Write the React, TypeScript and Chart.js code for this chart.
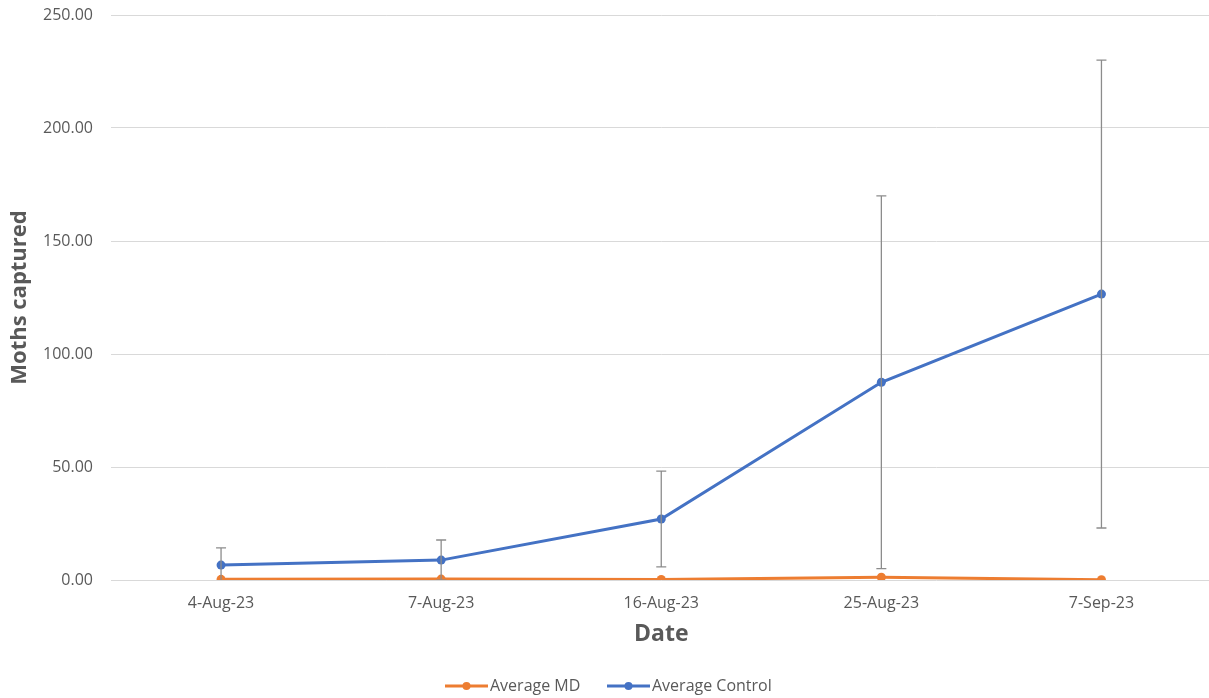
import React, { useEffect, useRef } from "react";
import { Chart, registerables } from "chart.js";

Chart.register(...registerables);

const categories = ["4-Aug-23", "7-Aug-23", "16-Aug-23", "25-Aug-23", "7-Sep-23"];
const averageMD = [0.3, 0.4, 0.2, 1.2, 0.1];
const averageControl = [6.6, 8.8, 27.0, 87.5, 126.5];
const controlError = [7.6, 8.9, 21.2, 82.5, 103.5];
const yTicks = [0, 50, 100, 150, 200, 250];

const FONT = "'Open Sans', sans-serif";
const ORANGE = "#ED7D31";
const BLUE = "#4472C4";
const TEXT = "#595959";

const errorBarPlugin = {
  id: "errorBars",
  afterDatasetsDraw(chart: any) {
    const ctx = chart.ctx;
    const x = chart.scales.x;
    const y = chart.scales.y;
    const area = chart.chartArea;
    ctx.save();
    ctx.beginPath();
    ctx.rect(area.left, area.top, area.right - area.left, area.bottom - area.top);
    ctx.clip();
    ctx.strokeStyle = "#8c8c8c";
    ctx.lineWidth = 1.3;
    averageControl.forEach((v, i) => {
      const px = x.getPixelForValue(i);
      const top = y.getPixelForValue(v + controlError[i]);
      const bot = y.getPixelForValue(v - controlError[i]);
      ctx.beginPath();
      ctx.moveTo(px, top);
      ctx.lineTo(px, bot);
      ctx.moveTo(px - 5, top);
      ctx.lineTo(px + 5, top);
      ctx.moveTo(px - 5, bot);
      ctx.lineTo(px + 5, bot);
      ctx.stroke();
    });
    ctx.restore();
  },
};

const legendPlugin = {
  id: "customLegend",
  afterDraw(chart: any) {
    const ctx = chart.ctx;
    const items = [
      { label: "Average MD", color: ORANGE, x: 445 },
      { label: "Average Control", color: BLUE, x: 607 },
    ];
    const yy = 686;
    ctx.save();
    ctx.font = `16px ${FONT}`;
    ctx.textBaseline = "middle";
    items.forEach((it) => {
      ctx.strokeStyle = it.color;
      ctx.lineWidth = 3;
      ctx.beginPath();
      ctx.moveTo(it.x, yy);
      ctx.lineTo(it.x + 43, yy);
      ctx.stroke();
      ctx.fillStyle = it.color;
      ctx.beginPath();
      ctx.arc(it.x + 21.5, yy, 4, 0, Math.PI * 2);
      ctx.fill();
      ctx.fillStyle = TEXT;
      ctx.fillText(it.label, it.x + 45, yy);
    });
    ctx.restore();
  },
};

export default function App() {
  const ref = useRef<HTMLCanvasElement>(null);
  useEffect(() => {
    document.body.style.margin = "0";
    document.body.style.overflow = "hidden";
    const chart = new Chart(ref.current!, {
      type: "line",
      data: {
        labels: categories,
        datasets: [
          {
            label: "Average MD",
            data: averageMD,
            borderColor: ORANGE,
            backgroundColor: ORANGE,
            borderWidth: 3,
            pointRadius: 4.5,
            pointBackgroundColor: ORANGE,
            pointBorderWidth: 0,
            tension: 0,
          },
          {
            label: "Average Control",
            data: averageControl,
            borderColor: BLUE,
            backgroundColor: BLUE,
            borderWidth: 3,
            pointRadius: 4.5,
            pointBackgroundColor: BLUE,
            pointBorderWidth: 0,
            tension: 0,
          },
        ],
      },
      options: {
        animation: false,
        responsive: false,
        maintainAspectRatio: false,
        layout: { padding: { top: 15, right: 0, bottom: 50, left: 0 } },
        plugins: {
          legend: { display: false },
          tooltip: { enabled: false },
        },
        scales: {
          x: {
            offset: true,
            grid: { display: false, drawTicks: false },
            border: { display: false },
            ticks: { color: TEXT, font: { family: FONT, size: 16 }, padding: 14, maxRotation: 0 },
            title: {
              display: true,
              text: "Date",
              color: TEXT,
              font: { family: FONT, size: 23, weight: "bold" },
              padding: { top: 0, bottom: 0 },
            },
            afterFit(scale: any) {
              scale.height = 68;
              scale.paddingLeft = 0;
              scale.paddingRight = 0;
            },
          },
          y: {
            min: 0,
            max: 250,
            afterBuildTicks(scale: any) {
              scale.ticks = yTicks.map((v) => ({ value: v }));
            },
            grid: { color: "#d9d9d9", lineWidth: 1, drawTicks: false },
            border: { display: false },
            ticks: {
              color: TEXT,
              font: { family: FONT, size: 16 },
              padding: 18,
              callback: (v: any) => Number(v).toFixed(2),
            },
            title: {
              display: true,
              text: "Moths captured",
              color: TEXT,
              font: { family: FONT, size: 22, weight: "bold" },
              padding: { top: 7, bottom: 4 },
            },
            afterFit(scale: any) {
              scale.width = 111;
              scale.paddingTop = 0;
              scale.paddingBottom = 0;
            },
          },
        },
      },
      plugins: [errorBarPlugin, legendPlugin],
    });
    return () => chart.destroy();
  }, []);
  return (
    <div style={{ width: 1209, height: 698, overflow: "hidden" }}>
      <canvas ref={ref} width={1216} height={698} style={{ display: "block" }} />
    </div>
  );
}
